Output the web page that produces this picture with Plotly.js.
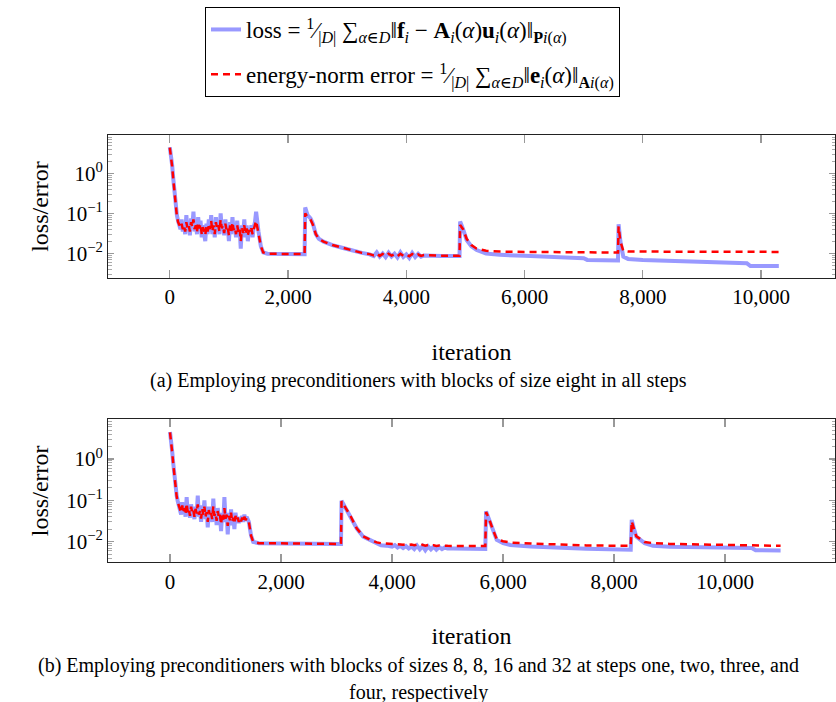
<!DOCTYPE html>
<html>
<head>
<meta charset="utf-8">
<script src="https://cdn.plot.ly/plotly-3.0.1.min.js"></script>
<style>html,body{margin:0;padding:0;background:#fff;}#chart{width:836px;height:702px;}</style>
</head>
<body>
<div id="chart"></div>
<script>
// ---------- (a) blocks of size eight in all steps ----------
const iterA = [0,20,40,60,80,100,120,140,160,
  180,200,220,240,260,280,300,320,340,360,380,400,420,440,460,480,500,520,540,560,580,600,620,640,660,680,700,720,740,760,780,800,820,840,860,880,900,920,940,960,980,1000,1020,1040,1060,1080,1100,1120,1140,1160,1180,1200,1220,1240,1260,1280,1300,1320,1340,1360,1380,1400,1420,1440,1460,1480,
  1500,1540,1580,1650,2280,2290,2330,2380,2420,2470,2520,2600,2750,2930,3100,3250,3380,
  3450,3500,3550,3600,3650,3700,3750,3800,3850,3900,3950,4000,4050,4100,4150,4200,4250,4300,
  4400,4600,4900,4910,4960,5020,5100,5190,5350,5580,6000,6500,7000,7060,7580,7590,7620,7670,7750,8000,8500,9000,9500,9760,9820,10300];
const lossA = [4.5,3.0,1.6,0.7,0.3,0.15,0.09,0.065,0.05,
  0.04,0.07,0.035,0.06,0.03,0.09,0.04,0.055,0.028,0.075,0.045,0.11,0.035,0.06,0.03,0.08,0.04,0.065,0.025,0.05,0.03,0.02,0.055,0.03,0.07,0.035,0.09,0.03,0.06,0.025,0.08,0.035,0.055,0.03,0.1,0.04,0.06,0.028,0.07,0.035,0.05,0.02,0.06,0.03,0.08,0.035,0.05,0.025,0.065,0.03,0.045,0.013,0.05,0.03,0.07,0.025,0.05,0.02,0.04,0.03,0.05,0.025,0.045,0.06,0.11,0.05,
  0.035,0.015,0.0105,0.0097,0.0095,0.14,0.09,0.075,0.055,0.03,0.023,0.0195,0.016,0.0135,0.0115,0.0102,0.0094,
  0.0085,0.0105,0.0082,0.0098,0.008,0.0103,0.0083,0.0097,0.0078,0.0105,0.0081,0.0094,0.0076,0.0102,0.008,0.0096,0.0082,0.0088,
  0.0086,0.0085,0.0085,0.062,0.04,0.0215,0.015,0.012,0.0098,0.0091,0.0086,0.008,0.0075,0.0068,0.0066,0.053,0.02,0.0082,0.0072,0.0068,0.0064,0.006,0.0057,0.0056,0.0048,0.0048];
const errA = [4.4,2.9,1.5,0.68,0.29,0.14,0.085,0.06,0.05,
  0.045,0.055,0.04,0.05,0.035,0.06,0.042,0.05,0.035,0.06,0.045,0.07,0.04,0.05,0.035,0.06,0.042,0.055,0.03,0.045,0.035,0.028,0.048,0.035,0.055,0.04,0.065,0.035,0.05,0.03,0.06,0.04,0.05,0.035,0.07,0.042,0.05,0.032,0.055,0.038,0.045,0.028,0.05,0.035,0.06,0.038,0.045,0.03,0.05,0.034,0.042,0.02,0.042,0.032,0.05,0.03,0.042,0.028,0.038,0.032,0.042,0.03,0.04,0.05,0.065,0.045,
  0.033,0.015,0.0105,0.0097,0.0095,0.1,0.08,0.07,0.052,0.03,0.023,0.0195,0.016,0.0135,0.0115,0.0102,0.0095,
  0.0088,0.0098,0.0086,0.0096,0.0085,0.0097,0.0087,0.0095,0.0084,0.0097,0.0086,0.0094,0.0084,0.0096,0.0085,0.0093,0.0086,0.009,
  0.0088,0.0087,0.0087,0.051,0.04,0.023,0.016,0.013,0.0115,0.011,0.0108,0.0106,0.0105,0.0105,0.0104,0.047,0.02,0.0114,0.011,0.011,0.011,0.0109,0.0109,0.011,0.0108,0.0108];

// ---------- (b) blocks of sizes 8, 8, 16, 32 ----------
const iterB = [0,20,40,60,80,100,120,140,160,
  180,200,220,240,260,280,300,320,340,360,380,400,420,440,460,480,500,520,540,560,580,600,620,640,660,680,700,720,740,760,780,800,820,840,860,880,900,920,940,960,980,1000,1020,1040,1060,1080,1100,1120,1140,1160,1180,1200,1220,1240,1260,1280,1300,1320,1340,1360,1380,1400,
  1420,1460,1500,1600,3080,3090,3150,3243,3363,3480,3600,3723,
  3800,3900,4000,4050,4100,4150,4200,4250,4300,4350,4400,4450,4500,4550,4600,4650,4700,4750,4800,4850,4900,4950,5000,
  5100,5680,5694,5750,5820,5886,6000,6130,6500,7000,7500,8300,8318,8360,8400,8550,8700,9000,9500,10000,10480,10550,11000];
const lossB = [4.5,3.0,1.5,0.75,0.35,0.2,0.13,0.095,0.075,
  0.06,0.045,0.09,0.05,0.07,0.04,0.12,0.045,0.065,0.038,0.08,0.05,0.06,0.035,0.07,0.045,0.13,0.04,0.06,0.03,0.075,0.045,0.1,0.035,0.055,0.022,0.07,0.04,0.05,0.03,0.11,0.04,0.055,0.025,0.065,0.035,0.045,0.018,0.05,0.03,0.12,0.035,0.05,0.015,0.045,0.03,0.06,0.025,0.04,0.02,0.05,0.03,0.04,0.028,0.038,0.03,0.042,0.03,0.045,0.032,0.04,0.035,
  0.03,0.014,0.0098,0.0092,0.0088,0.098,0.07,0.044,0.021,0.0132,0.011,0.0088,
  0.0082,0.008,0.0076,0.0082,0.0072,0.0079,0.007,0.0078,0.0068,0.0076,0.0066,0.008,0.0065,0.0078,0.0062,0.0077,0.0065,0.0076,0.0064,0.0074,0.0066,0.0072,0.0068,
  0.0068,0.0066,0.054,0.035,0.018,0.011,0.0092,0.0083,0.0076,0.0071,0.0067,0.0064,0.0335,0.02,0.0132,0.0092,0.0079,0.0075,0.0072,0.0071,0.007,0.0062,0.0061];
const errB = [4.4,2.9,1.45,0.72,0.34,0.19,0.125,0.09,0.072,
  0.06,0.05,0.075,0.052,0.065,0.045,0.085,0.05,0.06,0.042,0.07,0.05,0.058,0.04,0.062,0.048,0.08,0.045,0.055,0.036,0.062,0.045,0.07,0.04,0.052,0.03,0.058,0.042,0.05,0.035,0.072,0.042,0.05,0.032,0.055,0.038,0.045,0.026,0.046,0.034,0.065,0.036,0.045,0.024,0.042,0.033,0.05,0.03,0.038,0.027,0.042,0.032,0.038,0.03,0.036,0.031,0.038,0.031,0.04,0.033,0.037,0.035,
  0.03,0.014,0.0098,0.0092,0.0088,0.095,0.07,0.044,0.021,0.0135,0.0112,0.0096,
  0.0092,0.009,0.0088,0.0087,0.0085,0.0087,0.0084,0.0086,0.0083,0.0085,0.0082,0.0085,0.0081,0.0084,0.008,0.0083,0.008,0.0082,0.0079,0.0081,0.0079,0.008,0.0079,
  0.0079,0.0078,0.052,0.035,0.019,0.0115,0.0102,0.0095,0.009,0.0085,0.0081,0.0079,0.031,0.02,0.0135,0.0098,0.0092,0.0088,0.0085,0.0082,0.008,0.008,0.0079];

// ---------- text ----------
const lossName = "loss = <sup>1</sup>⁄<sub>|<i>D</i>|</sub> ∑<sub><i>α</i>∈<i>D</i></sub>‖<b>f</b><sub><i>i</i></sub> − <b>A</b><sub><i>i</i></sub>(<i>α</i>)<b>u</b><sub><i>i</i></sub>(<i>α</i>)‖<sub><b>P</b><i>i</i>(<i>α</i>)</sub>";
const errName = "energy-norm error = <sup>1</sup>⁄<sub>|<i>D</i>|</sub> ∑<sub><i>α</i>∈<i>D</i></sub>‖<b>e</b><sub><i>i</i></sub>(<i>α</i>)‖<sub><b>A</b><i>i</i>(<i>α</i>)</sub>";
const xTitle = "iteration";
const yTitle = "loss/error";
const yTickVals = [0.01, 0.1, 1];
const yTickText = ["10<sup>−2</sup>", "10<sup>−1</sup>", "10<sup>0</sup>"];
const xTickVals = [0, 2000, 4000, 6000, 8000, 10000];
const captionA = "(a) Employing preconditioners with blocks of size eight in all steps";
const captionB1 = "(b) Employing preconditioners with blocks of sizes 8, 8, 16 and 32 at steps one, two, three, and";
const captionB2 = "four, respectively";

const FONT = "Liberation Serif, DejaVu Serif, serif";
const lossColor = "rgb(153,153,255)";
const errColor = "rgb(255,0,0)";

const minorVals = [];
[0.001, 0.01, 0.1, 1].forEach(d => { for (let k = 2; k <= 9; k++) minorVals.push(d * k); });

function trLoss(x, y, xa, ya, show) {
  return {x: x, y: y, xaxis: xa, yaxis: ya, type: 'scatter', mode: 'lines', name: lossName,
    legendgroup: 'loss', showlegend: show, line: {color: lossColor, width: 4}};
}
function trErr(x, y, xa, ya, show) {
  return {x: x, y: y, xaxis: xa, yaxis: ya, type: 'scatter', mode: 'lines', name: errName,
    legendgroup: 'err', showlegend: show, line: {color: errColor, width: 2.5, dash: '7px,5px'}};
}

const data = [
  trLoss(iterA, lossA, 'x', 'y', true),
  trErr(iterA, errA, 'x', 'y', true),
  trLoss(iterB, lossB, 'x2', 'y2', false),
  trErr(iterB, errB, 'x2', 'y2', false)
];

function xAxis(range, dom, anchor) {
  return {domain: dom, range: range, anchor: anchor, tickmode: 'array', tickvals: xTickVals,
    tickformat: ',d', ticks: 'inside', ticklen: 8, tickcolor: '#999', tickwidth: 1.2,
    showline: true, linecolor: '#222', linewidth: 1, mirror: 'allticks', showgrid: false, zeroline: false,
    tickfont: {family: FONT, size: 21, color: '#000'},
    title: {text: xTitle, font: {family: FONT, size: 24, color: '#000'}, standoff: 34}};
}
function yAxis(range, dom, anchor) {
  return {domain: dom, type: 'log', range: range, anchor: anchor, tickmode: 'array', tickvals: yTickVals, ticktext: yTickText,
    ticks: 'inside', ticklen: 6, tickcolor: '#999', tickwidth: 1.2,
    minor: {tickmode: 'array', tickvals: minorVals, ticks: 'inside', ticklen: 3.5, tickcolor: '#aaa', tickwidth: 1},
    showline: true, linecolor: '#222', linewidth: 1, mirror: 'allticks', showgrid: false, zeroline: false,
    tickfont: {family: FONT, size: 21, color: '#000'},
    title: {text: yTitle, font: {family: FONT, size: 24, color: '#000'}, standoff: 10}};
}

const W = 836, H = 702;
const capFont = {family: FONT, size: 20, color: '#000'};
const layout = {
  width: W, height: H,
  margin: {l: 0, r: 0, t: 0, b: 0},
  paper_bgcolor: '#fff', plot_bgcolor: '#fff',
  font: {family: FONT, color: '#000'},
  showlegend: true,
  legend: {x: 205 / W, y: 1 - 7 / H, xanchor: 'left', yanchor: 'top',
    bordercolor: '#000', borderwidth: 1, bgcolor: '#fff', traceorder: 'grouped', tracegroupgap: 12,
    font: {family: FONT, size: 23, color: '#000'}},
  xaxis: xAxis([-1045, 11250], [108 / W, 835 / W], 'y'),
  yaxis: yAxis([-2.62, 0.96], [1 - 278 / H, 1 - 135 / H], 'x'),
  xaxis2: xAxis([-1117, 11980], [108 / W, 835 / W], 'y2'),
  yaxis2: yAxis([-2.5, 0.96], [1 - 562.3 / H, 1 - 419.3 / H], 'x2'),
  annotations: [
    {text: captionA, xref: 'paper', yref: 'paper', x: 0.5, y: 1 - 381 / H, xanchor: 'center', yanchor: 'middle',
      showarrow: false, font: capFont},
    {text: captionB1, xref: 'paper', yref: 'paper', x: 0.5, y: 1 - 665 / H, xanchor: 'center', yanchor: 'middle',
      showarrow: false, font: capFont},
    {text: captionB2, xref: 'paper', yref: 'paper', x: 0.5, y: 1 - 692 / H, xanchor: 'center', yanchor: 'middle',
      showarrow: false, font: capFont}
  ]
};

Plotly.newPlot('chart', data, layout, {displayModeBar: false, staticPlot: true});
</script>
</body>
</html>
